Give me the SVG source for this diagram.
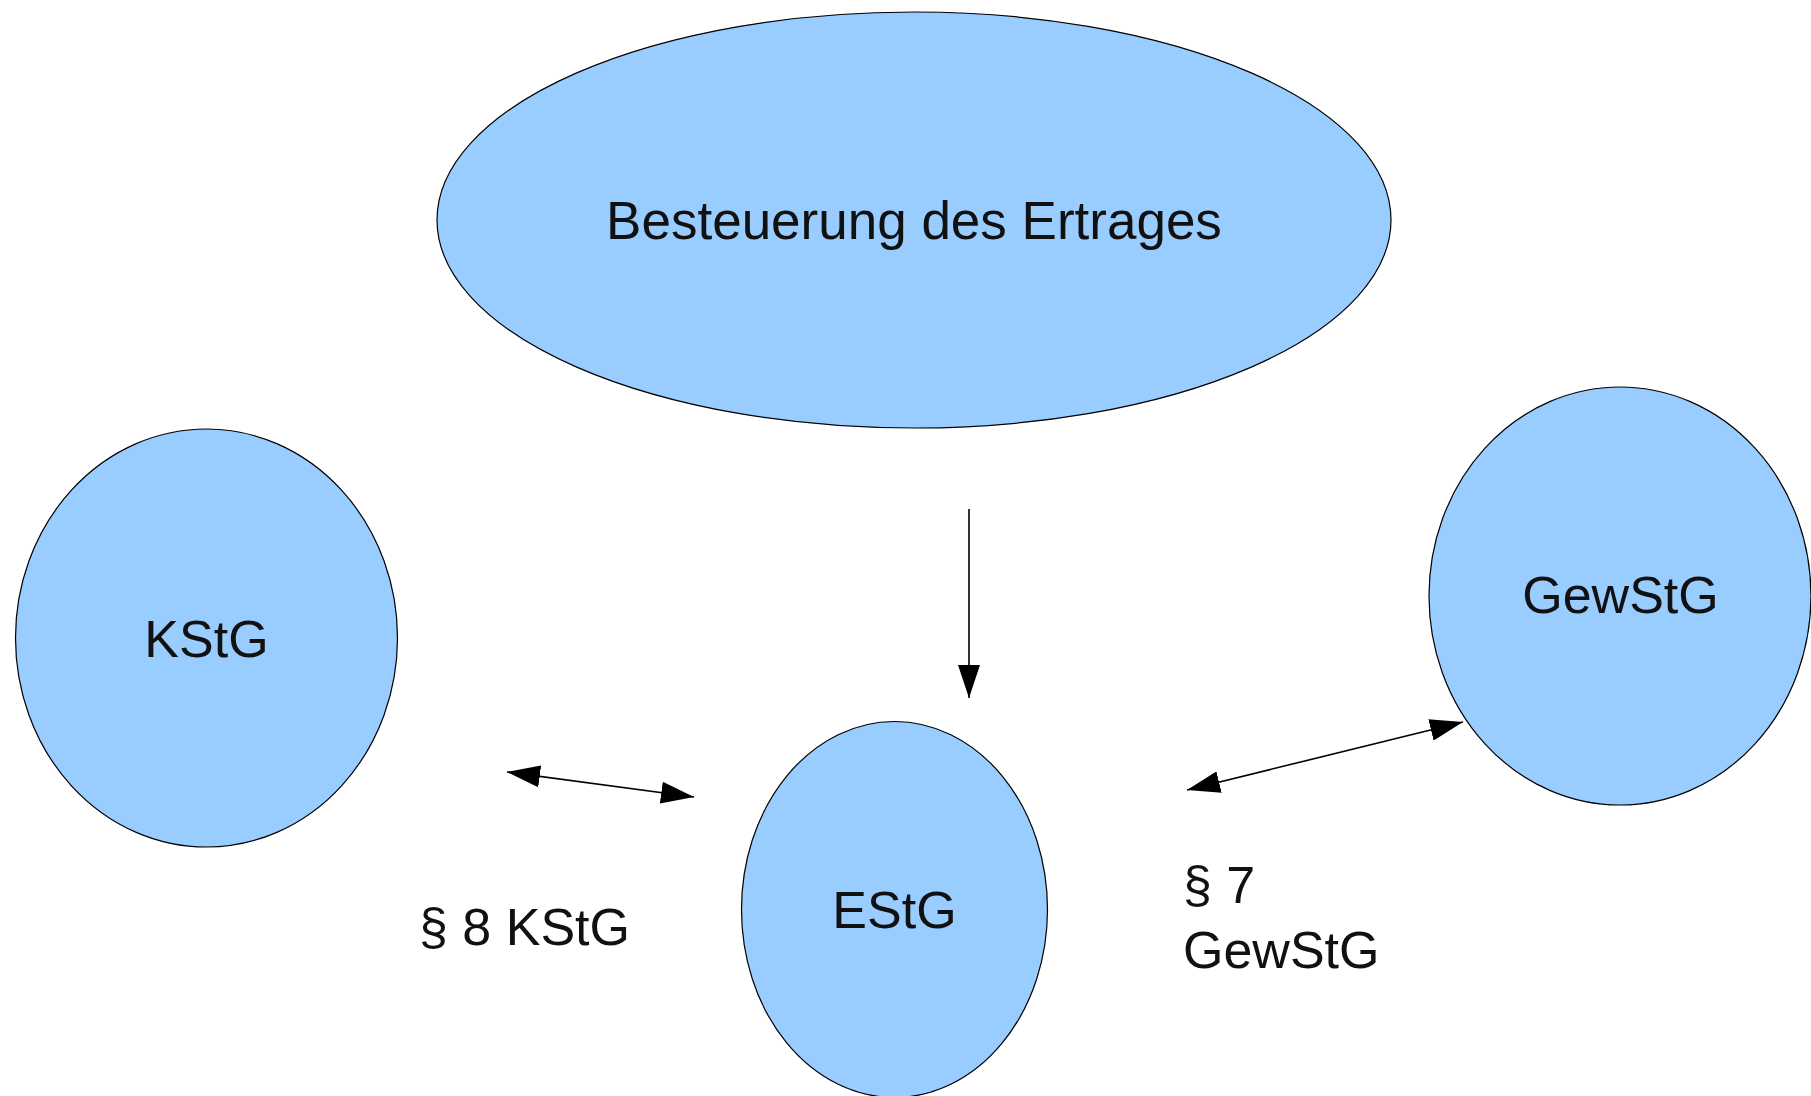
<svg xmlns="http://www.w3.org/2000/svg" width="1811" height="1096" viewBox="0 0 1811 1096">
<style>
.node{fill:#99ccff;stroke:#000;stroke-width:1.2}
.lbl{font-family:"Liberation Sans",Arial,sans-serif;font-size:52px;fill:#111}
.conn{stroke:#000;stroke-width:1.6;fill:none}
</style>
<defs>
<marker id="ah" viewBox="0 0 33 22" refX="33" refY="11" markerWidth="33" markerHeight="22" markerUnits="userSpaceOnUse" orient="auto-start-reverse">
<path d="M0,0 L33,11 L0,22 Z" fill="#000"/>
</marker>
</defs>
<rect width="1811" height="1096" fill="#fff"/>
<g id="besteuerung">
<ellipse class="node" cx="914" cy="220" rx="477" ry="208"/>
<text class="lbl" x="914" y="238.5" text-anchor="middle" style="font-size:53px">Besteuerung des Ertrages</text>
</g>
<g id="kstg">
<ellipse class="node" cx="206.5" cy="638" rx="191" ry="209"/>
<text class="lbl" x="206.5" y="657" text-anchor="middle">KStG</text>
</g>
<g id="gewstg">
<ellipse class="node" cx="1620" cy="596" rx="191" ry="209"/>
<text class="lbl" x="1620.5" y="613" text-anchor="middle">GewStG</text>
</g>
<g id="estg">
<ellipse class="node" cx="894.5" cy="909.5" rx="153" ry="188"/>
<text class="lbl" x="894.5" y="928" text-anchor="middle">EStG</text>
</g>
<g id="connectors">
<line class="conn" x1="969" y1="509" x2="969" y2="698" marker-end="url(#ah)"/>
<line class="conn" x1="507" y1="772" x2="694" y2="797" marker-start="url(#ah)" marker-end="url(#ah)"/>
<line class="conn" x1="1187" y1="790" x2="1463" y2="722" marker-start="url(#ah)" marker-end="url(#ah)"/>
</g>
<g id="labels">
<text class="lbl" x="419" y="945">§ 8 KStG</text>
<text class="lbl" x="1183" y="903">§ 7</text>
<text class="lbl" x="1183" y="968">GewStG</text>
</g>
</svg>
